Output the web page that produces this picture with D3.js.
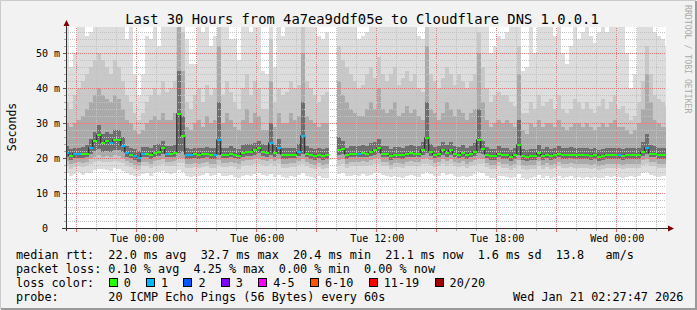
<!DOCTYPE html>
<html>
<head>
<meta charset="utf-8">
<title>Last 30 Hours</title>
<script src="https://cdn.jsdelivr.net/npm/d3@7"></script>
<style>
body { margin: 0; background: #f2f2f2; }
text { font-family: "DejaVu Sans Mono", monospace; white-space: pre; }
</style>
</head>
<body>
<svg id="chart" width="697" height="310"></svg>
<script>
// ---- values, one entry per 12 minute step ----
var firstColumn = Date.UTC(2026, 0, 19, 20, 24)
var stepMinutes = 12

var median = [21.7,20.6,21.2,21.3,21.2,21.4,23.1,24.9,26.6,24.3,
 24.9,24.3,25.4,25.2,23.7,21.7,21.1,20.6,20.1,21.4,
 21.4,20.9,21.7,22.0,22.9,21.4,21.4,21.7,32.7,26.3,
 20.9,20.9,21.2,20.9,21.2,21.4,20.9,20.9,25.2,21.1,
 21.1,21.4,21.1,20.8,21.7,22.0,22.0,22.3,22.9,22.0,
 21.7,24.3,21.7,22.9,20.9,20.9,21.1,21.1,22.0,26.3,
 21.4,20.9,20.6,21.1,20.6,20.9,null,null,22.5,22.8,
 20.9,21.4,21.4,21.4,21.7,21.4,22.0,22.3,22.9,21.4,
 21.4,20.6,21.1,21.1,20.9,21.4,21.7,21.4,21.4,22.3,
 26.0,22.0,21.1,21.4,22.3,21.7,22.3,21.4,21.1,21.7,
 20.9,21.4,22.0,25.4,22.6,21.1,20.6,20.6,21.4,20.9,
 20.9,20.3,20.9,24.0,20.6,20.3,20.6,20.6,21.7,20.6,
 21.1,20.6,20.9,21.4,20.9,20.9,21.1,20.9,20.9,20.9,
 20.9,20.6,20.9,20.3,20.6,20.9,20.9,20.9,20.9,20.6,
 20.9,20.9,20.9,20.9,22.0,23.1,21.4,21.4,20.9,20.9,
 20.9]

// lost pings (of 20) per step
var loss = [1,0,1,1,0,0,1,0,0,0,
 0,1,0,0,1,1,0,1,1,1,
 0,0,0,0,0,1,0,0,0,0,
 1,1,0,0,0,0,0,1,1,0,
 0,0,0,0,0,0,0,0,0,0,
 0,1,0,1,0,0,0,0,1,1,
 0,0,0,0,0,0,null,null,0,0,
 0,0,0,1,0,0,0,0,0,0,
 0,0,0,0,0,0,0,0,0,0,
 0,0,0,0,0,0,0,0,0,0,
 0,0,0,0,0,0,0,0,0,0,
 0,0,0,0,0,0,0,0,0,0,
 0,0,0,0,0,0,0,0,0,0,
 0,0,0,0,0,0,0,0,1,0,
 0,0,0,0,0,1,0,0,0,0,
 0]

// smoke: sorted ping levels (ms), outer to inner
var pingMax = [60,46,50,60,60,55,56,60,60,60,
 60,60,60,60,60,54,60,44,38,44,
 55,54,60,52,60,60,60,60,60,60,
 54,47,47,60,56,60,52,55,60,60,
 60,54,54,48,60,60,56,60,60,45,
 44,60,46,60,55,60,60,60,60,60,
 60,60,60,55,54,56,null,null,60,60,
 60,60,60,54,55,56,60,60,60,60,
 60,60,60,60,60,60,60,60,55,54,
 60,60,60,60,60,60,60,60,60,60,
 60,60,60,60,60,60,50,52,55,54,
 56,60,60,60,45,46,60,50,60,60,
 60,60,55,60,50,47,52,60,54,56,
 60,55,53,56,60,56,60,60,60,60,
 50,40,44,60,60,60,60,56,55,54,
 52]

var pingHigh1 = [36,34,38,40,42,44,46,48,50,48,
 46,44,48,46,42,38,36,33,31,33,
 36,38,40,38,42,39,40,42,60,56,
 36,34,38,40,36,41,38,40,58,38,
 42,39,36,34,40,44,38,42,40,34,
 34,54,36,40,38,39,42,40,41,58,
 42,40,38,36,38,39,null,null,52,48,
 46,44,42,40,41,44,46,43,49,44,
 42,44,46,41,43,45,42,44,40,39,
 58,44,42,40,43,46,44,41,44,42,
 40,42,44,56,46,40,36,38,39,38,
 38,36,35,52,33,33,36,34,38,35,
 36,37,34,38,34,33,34,37,36,34,
 36,34,33,35,37,34,36,38,34,35,
 33,31,32,36,42,52,44,38,37,36,
 35]

var pingHigh2 = [30,29,30,31,32,34,36,38,40,38,
 37,36,38,37,34,31,30,28,27,28,
 30,31,32,31,33,31,31,33,58,45,
 29,28,30,31,29,32,30,31,52,30,
 33,31,29,28,31,34,30,33,32,28,
 28,42,29,33,30,30,33,31,32,50,
 32,31,30,29,30,30,null,null,42,38,
 36,34,33,32,32,34,36,34,40,34,
 33,34,36,32,33,35,33,34,32,31,
 52,34,33,31,33,36,34,32,34,33,
 31,33,34,50,36,31,29,30,31,30,
 31,30,29,44,28,27,30,29,31,29,
 30,30,29,31,29,28,29,30,30,29,
 30,29,28,29,30,29,30,31,29,29,
 28,27,28,30,34,44,36,31,30,29,
 29]

var pingHigh3 = [23.5,22.5,23.0,23.0,23.2,23.8,25.5,27.5,29.5,27.0,
 27.5,27.0,28.0,28.0,26.0,23.5,23.0,22.5,22.0,23.2,
 23.2,22.8,23.6,24.0,25.0,23.3,23.3,23.8,45,32,
 22.8,22.7,23.0,22.8,23.0,23.2,22.8,22.8,36,23.0,
 23.0,23.3,23.0,22.6,23.6,24.0,24.0,24.3,25.0,24.0,
 23.6,30,23.6,25.5,22.8,22.8,23.0,23.0,24.0,36,
 23.3,22.8,22.5,23.0,22.5,22.8,null,null,26.0,25.0,
 23.0,23.4,23.4,23.5,23.8,23.5,24.2,24.5,25.5,23.5,
 23.4,22.6,23.2,23.2,23.0,23.5,23.8,23.5,23.5,24.5,
 36,24.0,23.2,23.5,24.5,23.8,24.5,23.5,23.2,23.8,
 23.0,23.5,24.2,34,25.0,23.2,22.6,22.6,23.4,23.0,
 23.0,22.3,23.0,31,22.6,22.3,22.6,22.6,23.8,22.6,
 23.2,22.6,23.0,23.5,23.0,23.0,23.2,23.0,23.0,23.0,
 23.0,22.6,23.0,22.4,22.6,23.0,23.0,23.0,23.0,22.6,
 23.0,23.0,23.0,23.0,24.5,27.0,23.6,23.5,23.0,23.0,
 23.0]

var pingLow3 = [20.4,19.4,20.0,20.1,20.0,20.2,21.2,22.0,22.6,21.8,
 22.0,21.8,22.4,22.2,21.6,20.4,19.9,19.4,19.0,20.2,
 20.2,19.7,20.4,20.7,21.2,20.2,20.2,20.4,21.4,21.6,
 19.7,19.7,20.0,19.7,20.0,20.2,19.7,19.7,20.8,19.9,
 19.9,20.2,19.9,19.6,20.4,20.7,20.7,21.0,21.4,20.7,
 20.4,21.0,20.4,21.2,19.7,19.7,19.9,19.9,20.6,21.2,
 20.2,19.7,19.4,19.9,19.4,19.7,null,null,20.9,21.1,
 19.7,20.2,20.2,20.2,20.4,20.2,20.7,21.0,21.4,20.2,
 20.2,19.4,19.9,19.9,19.7,20.2,20.4,20.2,20.2,21.0,
 21.4,20.7,19.9,20.2,21.0,20.4,21.0,20.2,19.9,20.4,
 19.7,20.2,20.7,21.4,21.2,19.9,19.4,19.4,20.2,19.7,
 19.7,19.1,19.7,20.8,19.4,19.1,19.4,19.4,20.4,19.4,
 19.9,19.4,19.7,20.2,19.7,19.7,19.9,19.7,19.7,19.7,
 19.7,19.4,19.7,19.1,19.4,19.7,19.7,19.7,19.7,19.4,
 19.7,19.7,19.7,19.7,20.7,21.2,20.2,20.2,19.7,19.7,
 19.7]

var pingLow2 = [19.1,18.2,18.7,18.8,18.7,18.9,19.8,20.4,20.8,20.3,
 20.5,20.3,20.8,20.6,20.1,19.1,18.6,18.1,17.8,18.9,
 18.9,18.4,19.1,19.3,19.8,18.9,18.9,19.1,20.0,20.1,
 18.4,18.4,18.7,18.4,18.7,18.9,18.4,18.4,19.4,18.6,
 18.6,18.9,18.6,18.3,19.1,19.3,19.3,19.6,19.9,19.3,
 19.1,19.6,19.1,19.8,18.4,18.4,18.6,18.6,19.2,19.7,
 18.9,18.4,18.1,18.6,18.1,18.4,null,null,19.5,19.7,
 18.4,18.9,18.9,18.9,19.1,18.9,19.3,19.6,19.9,18.9,
 18.9,18.1,18.6,18.6,18.4,18.9,19.1,18.9,18.9,19.6,
 19.9,19.3,18.6,18.9,19.6,19.1,19.6,18.9,18.6,19.1,
 18.4,18.9,19.3,19.9,19.7,18.6,18.1,18.1,18.9,18.4,
 18.4,17.8,18.4,19.4,18.1,17.8,18.1,18.1,19.1,18.1,
 18.6,18.1,18.4,18.9,18.4,18.4,18.6,18.4,18.4,18.4,
 18.4,18.1,18.4,17.8,18.1,18.4,18.4,18.4,18.4,18.1,
 18.4,18.4,18.4,18.4,19.3,19.7,18.9,18.9,18.4,18.4,
 18.4]

var pingLow1 = [17.8,17.0,17.5,17.6,17.4,17.6,18.4,18.9,19.2,18.8,
 19.0,18.8,19.2,19.0,18.6,17.8,17.4,16.9,16.6,17.6,
 17.6,17.2,17.8,18.0,18.4,17.6,17.6,17.8,18.6,18.6,
 17.2,17.2,17.4,17.2,17.4,17.6,17.2,17.2,18.0,17.4,
 17.4,17.6,17.4,17.0,17.8,18.0,18.0,18.2,18.4,18.0,
 17.8,18.2,17.8,18.4,17.2,17.2,17.4,17.4,17.9,18.2,
 17.6,17.2,16.9,17.4,16.9,17.2,null,null,18.1,18.3,
 17.2,17.6,17.6,17.6,17.8,17.6,18.0,18.2,18.4,17.6,
 17.6,16.9,17.4,17.4,17.2,17.6,17.8,17.6,17.6,18.2,
 18.4,18.0,17.4,17.6,18.2,17.8,18.2,17.6,17.4,17.8,
 17.2,17.6,18.0,18.4,18.2,17.4,16.9,16.9,17.6,17.2,
 17.2,16.6,17.2,18.0,16.9,16.6,16.9,16.9,17.8,16.9,
 17.4,16.9,17.2,17.6,17.2,17.2,17.4,17.2,17.2,17.2,
 17.2,16.9,17.2,16.6,16.9,17.2,17.2,17.2,17.2,16.9,
 17.2,17.2,17.2,17.2,18.0,18.2,17.6,17.6,17.2,17.2,
 17.2]

var pingMin = [15.6,15.0,15.4,16.0,15.2,15.6,15.8,16.6,17.0,16.8,
 16.6,16.4,17.2,17.0,16.2,15.6,15.2,15.0,14.8,15.4,
 15.6,15.0,15.8,16.0,16.4,15.6,15.4,15.6,16.6,16.0,
 15.0,14.6,14.8,15.0,15.2,15.6,15.0,15.2,15.8,15.0,
 14.8,15.2,14.6,14.4,15.0,15.2,15.0,15.4,15.6,15.2,
 14.8,15.4,14.6,15.2,14.6,14.4,14.8,14.6,15.2,15.6,
 15.0,14.6,14.4,14.8,14.2,14.4,null,null,15.4,15.6,
 14.8,15.0,15.2,14.8,15.4,15.0,15.2,15.6,15.8,15.2,
 15.0,14.6,14.8,14.6,14.4,15.0,15.2,14.8,14.6,15.4,
 16.0,15.4,14.8,15.0,15.6,15.2,15.4,14.8,14.6,15.0,
 14.6,15.0,15.4,16.0,15.6,14.8,14.4,14.4,15.0,14.8,
 14.6,14.2,14.6,15.4,14.4,14.0,14.4,14.6,15.2,14.4,
 14.8,14.4,14.6,15.0,14.4,14.6,14.8,14.4,14.6,14.4,
 14.6,14.4,14.6,14.2,14.4,14.8,14.6,14.8,14.6,14.4,
 14.6,14.8,14.6,14.8,15.6,16.0,15.2,15.0,14.6,14.8,
 14.8]

var yTicks = [0, 10, 20, 30, 40, 50]
var lossLabels = ["0", "1", "2", "3", "4-5", "6-10", "11-19", "20/20"]
var lossColors = ["#26ff00", "#00b8ff", "#0059ff", "#7e00ff", "#ff00ff", "#ff5500", "#ff0000", "#a10000"]
var statLines = [
  "median rtt:  22.0 ms avg  32.7 ms max  20.4 ms min  21.1 ms now  1.6 ms sd  13.8   am/s",
  "packet loss: 0.10 % avg  4.25 % max  0.00 % min  0.00 % now",
  "loss color:",
  "probe:       20 ICMP Echo Pings (56 Bytes) every 60s"
]
var titleText = "Last 30 Hours from 4a7ea9ddf05e to Cloudflare DNS 1.0.0.1"
var stampText = "Wed Jan 21 02:27:47 2026"

// ---- layout ----
var plotLeft = 66, plotRight = 666, plotTop = 27, plotBottom = 228
var charW = 7.13

var svg = d3.select("#chart")
svg.append("rect").attr("width", 697).attr("height", 310).attr("fill", "#f2f2f2")
svg.append("path").attr("d", "M0.5,309V0.5H696").attr("fill", "none").attr("stroke", "#cbcbcb")
svg.append("path").attr("d", "M1,309H696V1").attr("fill", "none").attr("stroke", "#9a9a9a").attr("stroke-width", 2)

var x = d3.scaleUtc()
  .domain([new Date(Date.UTC(2026, 0, 19, 20, 27, 47)), new Date(Date.UTC(2026, 0, 21, 2, 27, 47))])
  .range([plotLeft, plotRight])
var y = d3.scaleLinear().domain([0, 57.43]).range([plotBottom, plotTop])

var defs = svg.append("defs")
defs.append("clipPath").attr("id", "plotClip")
  .append("rect").attr("x", plotLeft).attr("y", plotTop)
  .attr("width", plotRight - plotLeft).attr("height", plotBottom - plotTop)

// dotted grid patterns: one pixel on, one off
function dotPattern(id, color, horizontal) {
  var p = defs.append("pattern").attr("id", id).attr("patternUnits", "userSpaceOnUse")
    .attr("width", 2).attr("height", 2)
  p.append("rect").attr("x", 0).attr("y", 0)
    .attr("width", horizontal ? 1 : 2).attr("height", horizontal ? 2 : 1).attr("fill", color)
}
dotPattern("dotMinorH", "#c2c2c2", true)
dotPattern("dotMinorV", "#c2c2c2", false)
dotPattern("dotMajorH", "#e67a7a", true)
dotPattern("dotMajorV", "#e67a7a", false)

svg.append("rect").attr("x", plotLeft).attr("y", plotTop)
  .attr("width", plotRight - plotLeft).attr("height", plotBottom - plotTop).attr("fill", "#ffffff")

function colStart(i) { return x(new Date(firstColumn + i * stepMinutes * 60000)) }

//---smoke bands (stepped areas)---
function bandPoints(lo, hi) {
  var pts = []
  lo.forEach(function(v, i) {
    var ok = v != null && hi[i] != null
    pts.push({x: colStart(i), lo: v, hi: hi[i], ok: ok})
    pts.push({x: colStart(i + 1), lo: v, hi: hi[i], ok: ok})
  })
  return pts
}
var area = d3.area()
  .defined(function(d) { return d.ok })
  .x(function(d) { return d.x })
  .y0(function(d) { return y(d.lo) })
  .y1(function(d) { return y(d.hi) })

var plot = svg.append("g").attr("clip-path", "url(#plotClip)")
var bands = [
  [pingMin, pingMax, "#dddddd"],
  [pingLow1, pingHigh1, "#c8c8c8"],
  [pingLow2, pingHigh2, "#aaaaaa"],
  [pingLow3, pingHigh3, "#6e6e6e"]
]
bands.forEach(function(b) {
  plot.append("path").attr("d", area(bandPoints(b[0], b[1])))
    .attr("fill", b[2]).attr("shape-rendering", "crispEdges")
})

//---grid (drawn over the smoke)---
var grid = svg.append("g").attr("shape-rendering", "crispEdges")
var hours = x.ticks(d3.utcHour.every(1))
hours.forEach(function(t) {
  var major = t.getUTCHours() % 3 == 0
  var px = Math.floor(x(t))
  grid.append("rect").attr("x", px).attr("y", plotTop).attr("width", 1).attr("height", plotBottom - plotTop)
    .attr("fill", major ? "url(#dotMajorV)" : "url(#dotMinorV)")
  grid.append("rect").attr("x", px).attr("y", plotBottom + 1).attr("width", 1).attr("height", major ? 3 : 2)
    .attr("fill", major ? "#e06060" : "#aaaaaa")
})
d3.range(2, 57, 2).forEach(function(v) {
  var major = v % 10 == 0
  var py = Math.floor(y(v))
  grid.append("rect").attr("x", plotLeft + 1).attr("y", py).attr("width", plotRight - plotLeft - 1).attr("height", 1)
    .attr("fill", major ? "url(#dotMajorH)" : "url(#dotMinorH)")
  grid.append("rect").attr("x", plotLeft - (major ? 3 : 2)).attr("y", py).attr("width", major ? 3 : 2).attr("height", 1)
    .attr("fill", major ? "#555555" : "#aaaaaa")
})

//---median: dark step line, then loss coloured segments---
var medPts = []
median.forEach(function(v, i) {
  medPts.push({x: colStart(i), v: v})
  medPts.push({x: colStart(i + 1), v: v})
})
svg.append("g").attr("clip-path", "url(#plotClip)").append("path")
  .attr("d", d3.line().defined(function(d) { return d.v != null })
    .x(function(d) { return d.x }).y(function(d) { return Math.floor(y(d.v)) + 0.5 })(medPts))
  .attr("fill", "none").attr("stroke", "#202020").attr("stroke-width", 1)

function lossBucket(n) {
  if (n <= 3) return n
  if (n <= 5) return 4
  if (n <= 10) return 5
  if (n <= 19) return 6
  return 7
}
svg.append("g").attr("clip-path", "url(#plotClip)")
  .selectAll("rect").data(median.map(function(v, i) { return {v: v, i: i} })
    .filter(function(d) { return d.v != null }))
  .enter().append("rect")
  .attr("x", function(d) { return colStart(d.i) })
  .attr("width", function(d) { return colStart(d.i + 1) - colStart(d.i) })
  .attr("y", function(d) { return Math.floor(y(d.v)) - 0.5 })
  .attr("height", 2)
  .attr("fill", function(d) { return lossColors[lossBucket(loss[d.i])] })
  .attr("shape-rendering", "crispEdges")

//---axes---
svg.append("line").attr("x1", plotLeft - 4).attr("x2", plotRight + 4).attr("y1", plotBottom + 0.5).attr("y2", plotBottom + 0.5)
  .attr("stroke", "#333333")
svg.append("line").attr("x1", plotLeft + 0.5).attr("x2", plotLeft + 0.5).attr("y1", plotBottom + 3).attr("y2", plotTop - 4)
  .attr("stroke", "#333333")
svg.append("path").attr("d", "M" + (plotLeft - 2.5) + "," + (plotTop - 1) + "L" + (plotLeft + 0.5) + "," + (plotTop - 7) + "L" + (plotLeft + 3.5) + "," + (plotTop - 1) + "Z")
  .attr("fill", "#7f0000")
svg.append("path").attr("d", "M" + (plotRight + 2) + "," + (plotBottom - 2.5) + "L" + (plotRight + 8) + "," + (plotBottom + 0.5) + "L" + (plotRight + 2) + "," + (plotBottom + 3.5) + "Z")
  .attr("fill", "#7f0000")

var xAxis = svg.append("g").attr("transform", "translate(0," + plotBottom + ")")
  .call(d3.axisBottom(x).ticks(d3.utcHour.every(6)).tickFormat(d3.utcFormat("%a %H:%M")).tickSize(0))
xAxis.select(".domain").remove()
xAxis.selectAll("text").attr("y", 14).attr("dy", null)
  .attr("font-family", "DejaVu Sans Mono").attr("font-size", 10).attr("fill", "#000")

var yAxis = svg.append("g").attr("transform", "translate(" + (plotLeft - 6) + ",0)")
  .call(d3.axisLeft(y).tickValues(yTicks).tickFormat(function(v) { return v == 0 ? "0  " : v + " m" }).tickSize(0).tickPadding(0))
yAxis.select(".domain").remove()
yAxis.selectAll("text").attr("dy", "0.36em").attr("xml:space", "preserve")
  .attr("font-family", "DejaVu Sans Mono").attr("font-size", 10).attr("fill", "#000")

svg.append("text").attr("transform", "translate(15.5,127) rotate(-90)")
  .attr("text-anchor", "middle").attr("font-size", 11.5).text("Seconds")

svg.append("text").attr("x", 362).attr("y", 24).attr("text-anchor", "middle")
  .attr("font-size", 13.8).text(titleText)

svg.append("text").attr("transform", "translate(685,5) rotate(90)")
  .attr("font-size", 8.2).attr("fill", "#aaaaaa").text("RRDTOOL / TOBI OETIKER")

//---legend---
statLines.forEach(function(s, k) {
  svg.append("text").attr("x", 16).attr("y", 258.5 + k * 14).attr("xml:space", "preserve")
    .attr("font-size", 11.8).text(s)
})
svg.append("text").attr("x", 513).attr("y", 300.5).attr("font-size", 11.8).text(stampText)

var lx = 16 + 13 * charW
lossLabels.forEach(function(lab, k) {
  svg.append("rect").attr("x", Math.round(lx) + 0.5).attr("y", 278.5).attr("width", 8).attr("height", 8)
    .attr("fill", lossColors[k]).attr("stroke", "#000")
  svg.append("text").attr("x", lx + 15).attr("y", 286.5).attr("font-size", 11.8).text(lab)
  lx += 16 + (lab.length + 2) * charW
})
</script>
</body>
</html>
